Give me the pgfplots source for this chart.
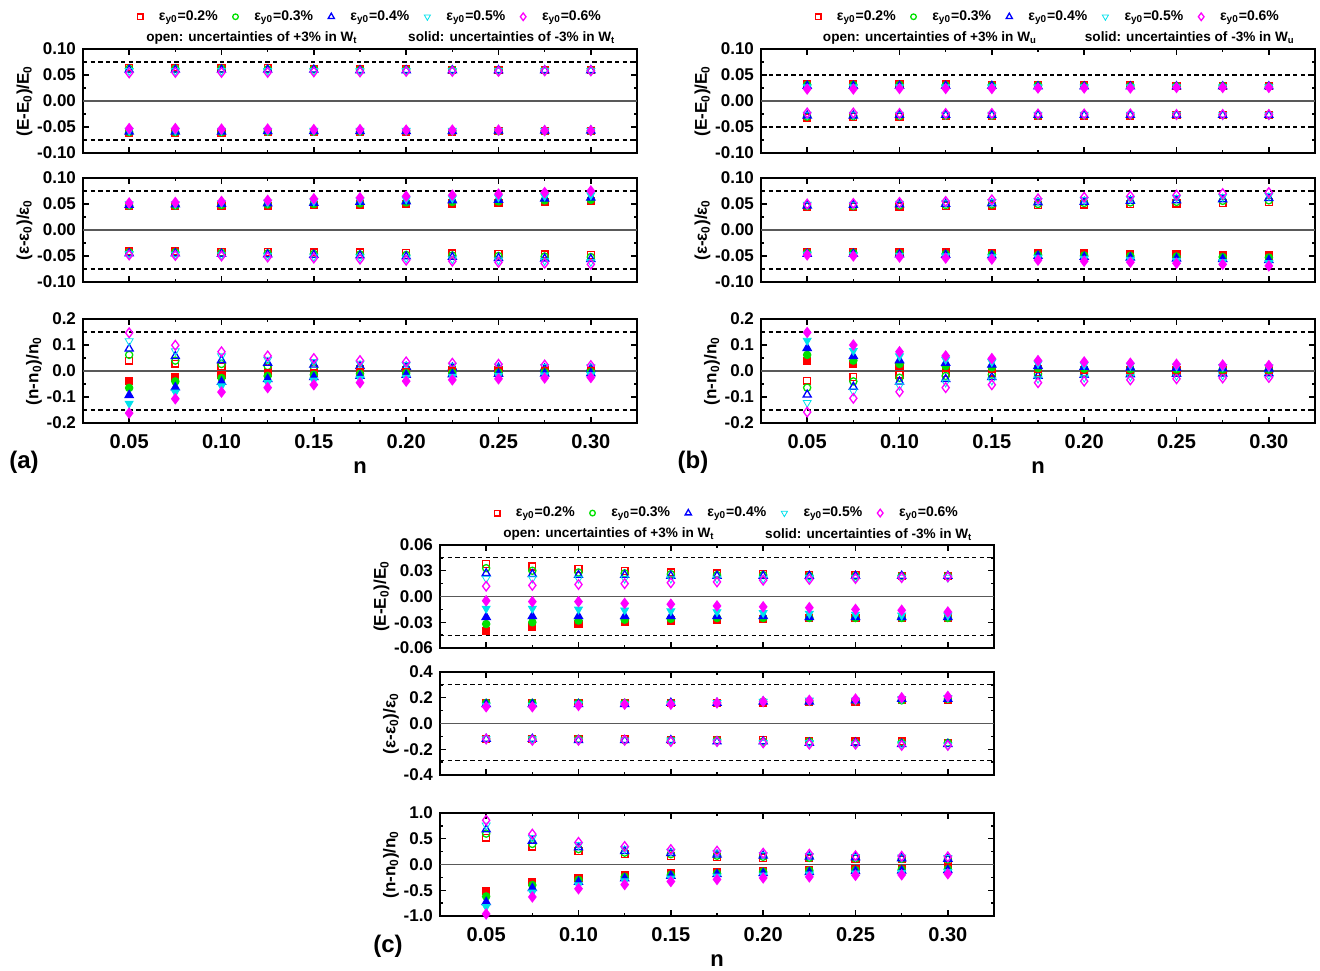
\documentclass[border=0pt]{standalone}
\usepackage{fontspec}
\setmainfont{Liberation Sans}
\usepackage{pgfplots}
\usepackage{pgfplotstable}
\pgfplotsset{compat=1.18}

\definecolor{cR}{RGB}{255,0,0}
\definecolor{cG}{RGB}{0,225,0}
\definecolor{cB}{RGB}{0,0,255}
\definecolor{cC}{RGB}{0,225,235}
\definecolor{cM}{RGB}{255,0,255}

% ---------------- data: open (ro..mo) and solid (rs..ms) ----------------
\pgfplotstableread{
n ro go bo co mo rs gs bs cs ms
0.050 0.064 0.062 0.060 0.058 0.054 -0.061 -0.060 -0.059 -0.057 -0.053
0.075 0.064 0.062 0.060 0.058 0.055 -0.061 -0.060 -0.059 -0.057 -0.053
0.100 0.063 0.062 0.060 0.058 0.055 -0.061 -0.060 -0.059 -0.057 -0.054
0.125 0.063 0.061 0.060 0.058 0.055 -0.060 -0.059 -0.058 -0.057 -0.054
0.150 0.062 0.061 0.060 0.058 0.056 -0.060 -0.059 -0.058 -0.057 -0.055
0.175 0.061 0.060 0.059 0.058 0.056 -0.060 -0.059 -0.058 -0.057 -0.055
0.200 0.061 0.060 0.059 0.058 0.057 -0.059 -0.058 -0.058 -0.057 -0.056
0.225 0.060 0.060 0.059 0.058 0.057 -0.059 -0.058 -0.058 -0.057 -0.056
0.250 0.060 0.059 0.059 0.058 0.057 -0.058 -0.058 -0.057 -0.057 -0.056
0.275 0.059 0.059 0.059 0.058 0.058 -0.058 -0.058 -0.057 -0.057 -0.057
0.300 0.059 0.059 0.059 0.058 0.058 -0.058 -0.058 -0.057 -0.057 -0.057
}\aE
\pgfplotstableread{
n ro go bo co mo rs gs bs cs ms
0.050 -0.041 -0.043 -0.045 -0.046 -0.048 0.046 0.047 0.048 0.050 0.052
0.075 -0.041 -0.043 -0.045 -0.047 -0.049 0.046 0.047 0.049 0.050 0.053
0.100 -0.042 -0.044 -0.046 -0.048 -0.050 0.046 0.048 0.050 0.052 0.055
0.125 -0.042 -0.045 -0.047 -0.049 -0.052 0.047 0.049 0.051 0.053 0.057
0.150 -0.043 -0.046 -0.048 -0.051 -0.054 0.048 0.050 0.052 0.055 0.060
0.175 -0.043 -0.047 -0.049 -0.052 -0.056 0.049 0.051 0.054 0.057 0.062
0.200 -0.044 -0.048 -0.051 -0.054 -0.058 0.050 0.053 0.055 0.059 0.065
0.225 -0.045 -0.049 -0.052 -0.056 -0.060 0.051 0.054 0.057 0.061 0.067
0.250 -0.046 -0.050 -0.054 -0.058 -0.062 0.052 0.055 0.058 0.063 0.069
0.275 -0.047 -0.051 -0.055 -0.059 -0.064 0.053 0.057 0.060 0.065 0.072
0.300 -0.048 -0.052 -0.056 -0.061 -0.066 0.055 0.058 0.062 0.067 0.075
}\aS
\pgfplotstableread{
n ro go bo co mo rs gs bs cs ms
0.050 0.040 0.062 0.086 0.115 0.147 -0.037 -0.065 -0.093 -0.125 -0.162
0.075 0.028 0.040 0.057 0.077 0.099 -0.024 -0.040 -0.063 -0.082 -0.107
0.100 0.018 0.027 0.041 0.057 0.074 -0.014 -0.027 -0.042 -0.058 -0.081
0.125 0.012 0.019 0.031 0.044 0.058 -0.009 -0.019 -0.031 -0.045 -0.064
0.150 0.008 0.014 0.024 0.035 0.048 -0.006 -0.014 -0.024 -0.036 -0.053
0.175 0.006 0.011 0.019 0.029 0.040 -0.004 -0.011 -0.019 -0.029 -0.045
0.200 0.005 0.009 0.016 0.024 0.035 -0.003 -0.008 -0.015 -0.025 -0.039
0.225 0.004 0.007 0.013 0.021 0.030 -0.002 -0.007 -0.013 -0.021 -0.034
0.250 0.003 0.006 0.012 0.018 0.026 -0.002 -0.006 -0.011 -0.018 -0.030
0.275 0.003 0.006 0.010 0.016 0.023 -0.002 -0.005 -0.010 -0.016 -0.027
0.300 0.003 0.005 0.009 0.015 0.021 -0.001 -0.004 -0.009 -0.015 -0.025
}\aN
\pgfplotstableread{
n ro go bo co mo rs gs bs cs ms
0.050 -0.032 -0.030 -0.028 -0.026 -0.023 0.033 0.031 0.029 0.027 0.023
0.075 -0.031 -0.029 -0.028 -0.026 -0.023 0.032 0.031 0.029 0.027 0.023
0.100 -0.030 -0.029 -0.027 -0.026 -0.024 0.032 0.031 0.029 0.027 0.024
0.125 -0.029 -0.028 -0.027 -0.026 -0.024 0.032 0.030 0.029 0.027 0.024
0.150 -0.029 -0.028 -0.027 -0.026 -0.024 0.031 0.030 0.029 0.027 0.024
0.175 -0.028 -0.028 -0.027 -0.026 -0.025 0.031 0.030 0.028 0.027 0.025
0.200 -0.028 -0.027 -0.027 -0.026 -0.025 0.030 0.029 0.028 0.027 0.025
0.225 -0.028 -0.027 -0.027 -0.026 -0.025 0.030 0.029 0.028 0.027 0.025
0.250 -0.027 -0.027 -0.027 -0.026 -0.026 0.029 0.029 0.028 0.027 0.026
0.275 -0.027 -0.027 -0.027 -0.027 -0.026 0.029 0.029 0.028 0.027 0.026
0.300 -0.027 -0.027 -0.027 -0.027 -0.026 0.029 0.028 0.028 0.027 0.026
}\bE
\pgfplotstableread{
n ro go bo co mo rs gs bs cs ms
0.050 0.045 0.046 0.047 0.049 0.050 -0.042 -0.044 -0.046 -0.047 -0.048
0.075 0.045 0.046 0.048 0.049 0.051 -0.042 -0.044 -0.046 -0.048 -0.050
0.100 0.045 0.047 0.049 0.051 0.053 -0.043 -0.045 -0.047 -0.049 -0.052
0.125 0.046 0.048 0.050 0.052 0.055 -0.043 -0.046 -0.048 -0.050 -0.054
0.150 0.047 0.049 0.051 0.054 0.058 -0.044 -0.047 -0.049 -0.052 -0.056
0.175 0.048 0.050 0.053 0.056 0.060 -0.044 -0.048 -0.050 -0.053 -0.058
0.200 0.049 0.052 0.054 0.058 0.063 -0.045 -0.049 -0.052 -0.055 -0.060
0.225 0.050 0.053 0.056 0.060 0.065 -0.046 -0.050 -0.053 -0.057 -0.062
0.250 0.051 0.054 0.057 0.062 0.067 -0.047 -0.051 -0.055 -0.059 -0.064
0.275 0.052 0.056 0.059 0.064 0.070 -0.048 -0.052 -0.056 -0.061 -0.066
0.300 0.054 0.057 0.061 0.066 0.072 -0.049 -0.053 -0.058 -0.063 -0.069
}\bS
\pgfplotstableread{
n ro go bo co mo rs gs bs cs ms
0.050 -0.037 -0.064 -0.091 -0.122 -0.158 0.040 0.062 0.088 0.117 0.148
0.075 -0.024 -0.040 -0.061 -0.078 -0.105 0.028 0.040 0.057 0.078 0.100
0.100 -0.014 -0.026 -0.041 -0.056 -0.080 0.018 0.027 0.041 0.057 0.074
0.125 -0.009 -0.019 -0.031 -0.044 -0.064 0.012 0.019 0.031 0.044 0.058
0.150 -0.006 -0.014 -0.024 -0.036 -0.053 0.008 0.014 0.024 0.035 0.048
0.175 -0.004 -0.011 -0.019 -0.029 -0.045 0.006 0.011 0.019 0.029 0.040
0.200 -0.003 -0.008 -0.015 -0.025 -0.039 0.005 0.009 0.016 0.024 0.035
0.225 -0.002 -0.007 -0.013 -0.021 -0.034 0.004 0.007 0.013 0.021 0.030
0.250 -0.002 -0.006 -0.011 -0.018 -0.030 0.003 0.006 0.012 0.018 0.026
0.275 -0.002 -0.005 -0.010 -0.016 -0.027 0.003 0.006 0.010 0.016 0.023
0.300 -0.001 -0.004 -0.009 -0.015 -0.025 0.003 0.005 0.009 0.015 0.021
}\bN
\pgfplotstableread{
n ro go bo co mo rs gs bs cs ms
0.050 0.038 0.033 0.027 0.021 0.012 -0.040 -0.032 -0.024 -0.014 -0.005
0.075 0.035 0.030 0.026 0.021 0.013 -0.035 -0.030 -0.023 -0.014 -0.006
0.100 0.032 0.028 0.025 0.021 0.014 -0.032 -0.028 -0.023 -0.015 -0.006
0.125 0.030 0.027 0.025 0.021 0.015 -0.030 -0.027 -0.023 -0.016 -0.008
0.150 0.028 0.026 0.024 0.021 0.016 -0.028 -0.026 -0.023 -0.017 -0.009
0.175 0.027 0.025 0.024 0.021 0.017 -0.027 -0.025 -0.023 -0.018 -0.011
0.200 0.026 0.025 0.024 0.021 0.019 -0.026 -0.025 -0.023 -0.019 -0.012
0.225 0.025 0.024 0.024 0.022 0.020 -0.025 -0.025 -0.024 -0.020 -0.013
0.250 0.025 0.024 0.024 0.022 0.021 -0.025 -0.025 -0.024 -0.021 -0.015
0.275 0.024 0.024 0.024 0.022 0.022 -0.025 -0.025 -0.024 -0.022 -0.016
0.300 0.024 0.024 0.024 0.022 0.023 -0.025 -0.025 -0.024 -0.022 -0.018
}\cE
\pgfplotstableread{
n ro go bo co mo rs gs bs cs ms
0.050 -0.12 -0.12 -0.12 -0.12 -0.12 0.16 0.16 0.15 0.14 0.13
0.075 -0.12 -0.12 -0.12 -0.12 -0.13 0.16 0.16 0.15 0.14 0.13
0.100 -0.12 -0.12 -0.13 -0.13 -0.13 0.16 0.16 0.15 0.15 0.14
0.125 -0.12 -0.13 -0.13 -0.13 -0.13 0.16 0.16 0.15 0.15 0.15
0.150 -0.13 -0.13 -0.13 -0.13 -0.14 0.16 0.16 0.16 0.15 0.15
0.175 -0.13 -0.13 -0.14 -0.14 -0.14 0.16 0.16 0.16 0.16 0.16
0.200 -0.13 -0.14 -0.14 -0.15 -0.15 0.16 0.17 0.17 0.17 0.17
0.225 -0.14 -0.14 -0.15 -0.15 -0.16 0.17 0.17 0.17 0.18 0.18
0.250 -0.14 -0.15 -0.15 -0.16 -0.16 0.17 0.18 0.18 0.18 0.19
0.275 -0.14 -0.15 -0.16 -0.16 -0.17 0.18 0.18 0.19 0.19 0.20
0.300 -0.15 -0.15 -0.16 -0.17 -0.17 0.18 0.19 0.19 0.20 0.21
}\cS
\pgfplotstableread{
n ro go bo co mo rs gs bs cs ms
0.050 0.52 0.60 0.68 0.76 0.86 -0.52 -0.62 -0.73 -0.82 -0.96
0.075 0.35 0.40 0.46 0.52 0.59 -0.34 -0.40 -0.46 -0.54 -0.63
0.100 0.26 0.30 0.33 0.38 0.43 -0.26 -0.30 -0.34 -0.40 -0.47
0.125 0.20 0.23 0.26 0.30 0.35 -0.20 -0.24 -0.27 -0.32 -0.39
0.150 0.17 0.20 0.22 0.25 0.29 -0.16 -0.20 -0.22 -0.27 -0.33
0.175 0.15 0.17 0.19 0.22 0.26 -0.14 -0.17 -0.19 -0.23 -0.29
0.200 0.13 0.15 0.17 0.19 0.22 -0.12 -0.14 -0.17 -0.21 -0.26
0.225 0.12 0.13 0.15 0.17 0.20 -0.10 -0.12 -0.15 -0.19 -0.24
0.250 0.11 0.12 0.14 0.15 0.17 -0.09 -0.11 -0.13 -0.17 -0.21
0.275 0.10 0.11 0.12 0.14 0.16 -0.08 -0.10 -0.12 -0.16 -0.20
0.300 0.09 0.10 0.11 0.13 0.15 -0.07 -0.09 -0.11 -0.14 -0.18
}\cN

\pgfplotsset{
  mk/.style={only marks, mark options={line width=0.65pt, solid}},
  oR/.style={mk, color=cR, mark=square, mark size=1.7pt},
  sR/.style={mk, color=cR, mark=square*, mark size=1.7pt},
  oG/.style={mk, color=cG, mark=o, mark size=1.8pt},
  sG/.style={mk, color=cG, mark=*, mark size=1.8pt},
  oB/.style={mk, color=cB, mark=triangle, mark size=2.3pt},
  sB/.style={mk, color=cB, mark=triangle*, mark size=2.3pt},
  oC/.style={mk, color=cC, mark=triangle, mark size=2.3pt, mark options={rotate=180}},
  sC/.style={mk, color=cC, mark=triangle*, mark size=2.3pt, mark options={rotate=180}},
  oM/.style={mk, color=cM, mark=diamond, mark size=2.4pt},
  sM/.style={mk, color=cM, mark=diamond*, mark size=2.4pt},
  base/.style={
    scale only axis, width=277pt, height=52pt,
    xmin=0.025, xmax=0.325,
    xtick={0.05,0.1,0.15,0.2,0.25,0.3},
    minor x tick num=1, minor y tick num=1,
    tick align=inside,
    major tick length=2.8pt, minor tick length=1.6pt,
    tick style={black, line width=0.7pt},
    axis line style={line width=1.1pt},
    clip=false,
    scaled ticks=false,
    /pgf/number format/assume math mode=true,
    xticklabel style={font=\bfseries\fontsize{10}{12}\selectfont, yshift=-2pt, /pgf/number format/fixed, /pgf/number format/fixed zerofill, /pgf/number format/precision=2},
    yticklabel style={font=\bfseries\fontsize{8.5}{10}\selectfont, /pgf/number format/fixed, /pgf/number format/fixed zerofill},
    ylabel style={font=\bfseries\fontsize{8.5}{10}\selectfont, yshift=-4.5pt},
    xlabel style={font=\bfseries\fontsize{11}{13}\selectfont},
  },
  p2/.style={yticklabel style={/pgf/number format/precision=2}},
  p1/.style={yticklabel style={/pgf/number format/precision=1}},
  noxl/.style={xticklabels={}},
  toplegend/.style={
    legend style={at={(0.52,1.31)}, anchor=center, draw=none, fill=none,
      legend columns=5, font=\bfseries\fontsize{7}{8}\selectfont,
      /tikz/every even column/.append style={column sep=5.5pt}},
  },
}

\newcommand{\pts}[1]{%
  \addplot[oR, forget plot] table[x=n,y=ro]{#1};
  \addplot[oG, forget plot] table[x=n,y=go]{#1};
  \addplot[oB, forget plot] table[x=n,y=bo]{#1};
  \addplot[oC, forget plot] table[x=n,y=co]{#1};
  \addplot[oM, forget plot] table[x=n,y=mo]{#1};
  \addplot[sR, forget plot] table[x=n,y=rs]{#1};
  \addplot[sG, forget plot] table[x=n,y=gs]{#1};
  \addplot[sB, forget plot] table[x=n,y=bs]{#1};
  \addplot[sC, forget plot] table[x=n,y=cs]{#1};
  \addplot[sM, forget plot] table[x=n,y=ms]{#1};
}
\newcommand{\refl}[1]{\addplot[black, line width=0.6pt, dash pattern=on 2.2pt off 1.6pt, forget plot] coordinates {(0.025,#1) (0.325,#1)};}
\newcommand{\zerol}{\addplot[black!65, line width=0.8pt, forget plot] coordinates {(0.025,0) (0.325,0)};}
\newcommand{\legendset}{%
  \addlegendimage{oR, mark size=1.4pt}\addlegendentry{\hspace*{6pt}ε\textsubscript{y0}=0.2\%}
  \addlegendimage{oG, mark size=1.4pt}\addlegendentry{\hspace*{6pt}ε\textsubscript{y0}=0.3\%}
  \addlegendimage{oB, mark size=1.8pt}\addlegendentry{\hspace*{6pt}ε\textsubscript{y0}=0.4\%}
  \addlegendimage{oC, mark size=1.8pt}\addlegendentry{\hspace*{6pt}ε\textsubscript{y0}=0.5\%}
  \addlegendimage{oM, mark size=1.9pt}\addlegendentry{\hspace*{6pt}ε\textsubscript{y0}=0.6\%}
}
\newcommand{\openline}[1]{%
  \node[font=\bfseries\fontsize{6.8}{8}\selectfont] at (axis description cs:0.305,1.105) {open: uncertainties of +3\% in W\textsubscript{#1}};
  \node[font=\bfseries\fontsize{6.8}{8}\selectfont] at (axis description cs:0.774,1.105) {solid: uncertainties of -3\% in W\textsubscript{#1}};
}

\begin{document}
\begin{tikzpicture}[font=\bfseries]
\useasboundingbox (0,0) rectangle (660pt,485pt);

% ===================== (a) =====================
\begin{axis}[base, toplegend, p2, noxl, at={(41.5pt,460.5pt)}, anchor=north west,
  ymin=-0.1, ymax=0.1, ytick={-0.1,-0.05,0,0.05,0.1},
  ylabel={(E-E\textsubscript{0})/E\textsubscript{0}}]
\legendset
\refl{0.075}\refl{-0.075}\zerol
\pts{\aE}
\openline{t}
\end{axis}

\begin{axis}[base, p2, noxl, at={(41.5pt,396pt)}, anchor=north west,
  ymin=-0.1, ymax=0.1, ytick={-0.1,-0.05,0,0.05,0.1},
  ylabel={(ε-ε\textsubscript{0})/ε\textsubscript{0}}]
\refl{0.075}\refl{-0.075}\zerol
\pts{\aS}
\end{axis}

\begin{axis}[base, p1, at={(41.5pt,325.5pt)}, anchor=north west,
  ymin=-0.2, ymax=0.2, ytick={-0.2,-0.1,0,0.1,0.2},
  ylabel={(n-n\textsubscript{0})/n\textsubscript{0}}, xlabel={n}]
\refl{0.15}\refl{-0.15}\zerol
\pts{\aN}
\end{axis}

% ===================== (b) =====================
\begin{axis}[base, toplegend, p2, noxl, at={(380.5pt,460.5pt)}, anchor=north west,
  ymin=-0.1, ymax=0.1, ytick={-0.1,-0.05,0,0.05,0.1},
  ylabel={(E-E\textsubscript{0})/E\textsubscript{0}}]
\legendset
\refl{0.05}\refl{-0.05}\zerol
\pts{\bE}
\openline{u}
\end{axis}

\begin{axis}[base, p2, noxl, at={(380.5pt,396pt)}, anchor=north west,
  ymin=-0.1, ymax=0.1, ytick={-0.1,-0.05,0,0.05,0.1},
  ylabel={(ε-ε\textsubscript{0})/ε\textsubscript{0}}]
\refl{0.075}\refl{-0.075}\zerol
\pts{\bS}
\end{axis}

\begin{axis}[base, p1, at={(380.5pt,325.5pt)}, anchor=north west,
  ymin=-0.2, ymax=0.2, ytick={-0.2,-0.1,0,0.1,0.2},
  ylabel={(n-n\textsubscript{0})/n\textsubscript{0}}, xlabel={n}]
\refl{0.15}\refl{-0.15}\zerol
\pts{\bN}
\end{axis}

% ===================== (c) =====================
\begin{axis}[base, toplegend, p2, noxl, height=51.5pt, at={(220pt,212.5pt)}, anchor=north west,
  ymin=-0.06, ymax=0.06, ytick={-0.06,-0.03,0,0.03,0.06},
  ylabel={(E-E\textsubscript{0})/E\textsubscript{0}}]
\legendset
\refl{0.045}\refl{-0.045}\zerol
\pts{\cE}
\openline{t}
\end{axis}

\begin{axis}[base, p1, noxl, height=51.5pt, at={(220pt,149pt)}, anchor=north west,
  ymin=-0.4, ymax=0.4, ytick={-0.4,-0.2,0,0.2,0.4},
  ylabel={(ε-ε\textsubscript{0})/ε\textsubscript{0}}]
\refl{0.3}\refl{-0.29}\zerol
\pts{\cS}
\end{axis}

\begin{axis}[base, p1, height=51.5pt, at={(220pt,78.5pt)}, anchor=north west,
  ymin=-1, ymax=1, ytick={-1,-0.5,0,0.5,1},
  ylabel={(n-n\textsubscript{0})/n\textsubscript{0}}, xlabel={n}]
\zerol
\pts{\cN}
\end{axis}

\node[font=\bfseries\fontsize{12}{14}\selectfont] at (12pt,254pt) {(a)};
\node[font=\bfseries\fontsize{12}{14}\selectfont] at (346.5pt,254pt) {(b)};
\node[font=\bfseries\fontsize{12}{14}\selectfont] at (194pt,12pt) {(c)};
\end{tikzpicture}
\end{document}
